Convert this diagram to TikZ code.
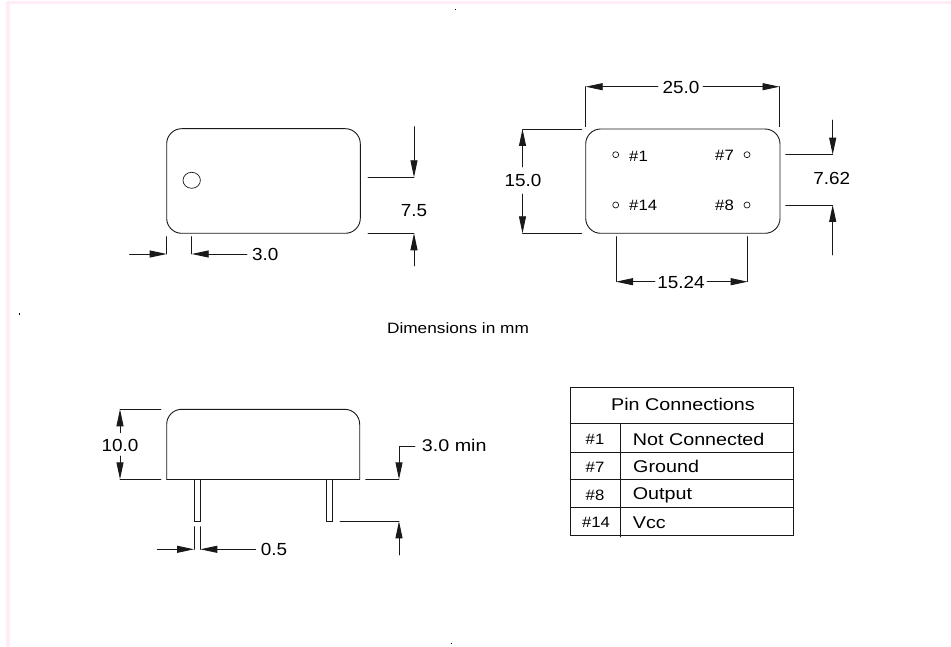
\documentclass[tikz,border=0pt]{standalone}
\usepackage{fontspec}
\setmainfont{Liberation Sans}
\usetikzlibrary{arrows.meta}

\begin{document}
\begin{tikzpicture}[x=1pt,y=-1pt,line cap=round]
	\tikzstyle{frame}=[draw=none,fill=magenta!7!white];
	\tikzstyle{body}=[line width=0.9pt,draw=black!90];
	\tikzstyle{ext}=[line width=0.9pt,draw=black!90];
	\tikzstyle{dim}=[line width=0.9pt,draw=black!90,-{Triangle[length=17pt,width=7pt]}];
	\tikzstyle{hole}=[line width=0.7pt,draw=black!90,fill=white];
	\tikzstyle{lab}=[inner sep=0pt,font=\fontsize{17.5}{18}\selectfont\addfontfeature{FakeStretch=1.08}];
	\tikzstyle{small}=[inner sep=0pt,font=\fontsize{15}{16}\selectfont\addfontfeature{FakeStretch=1.115}];
	\tikzstyle{wide}=[inner sep=0pt,font=\fontsize{15}{16}\selectfont\addfontfeature{FakeStretch=1.15}];
	\tikzstyle{tab}=[inner sep=0pt,font=\fontsize{17}{18}\selectfont\addfontfeature{FakeStretch=1.16}];
	\tikzstyle{speck}=[draw=none,fill=black];

	\useasboundingbox (0,0) rectangle (951,647);
	% page edge
	\fill[frame] (6,1) rectangle (951,4);
	\fill[frame] (6,1) rectangle (10,647);
	\fill[speck] (454.5,9.5) rectangle (455.5,10.5);
	\fill[speck] (18.5,313) rectangle (20,314.5);
	\fill[speck] (451,643) rectangle (452,644);

	% top view, left
	\draw[body,rounded corners=15] (166.7,128.7) rectangle (360.3,233.3);
	\draw[hole] (191.7,180.3) ellipse (8.7 and 8);
	\draw[ext] (368,177.3) -- (414,177.3);
	\draw[ext] (368,233.3) -- (414,233.3);
	\draw[dim] (414,126.7) -- (414,177.3);
	\draw[dim] (414,266) -- (414,233.3);
	\node[lab] (dimb) at (414,211) {7.5};
	\draw[ext] (166.7,236.7) -- (166.7,254);
	\draw[ext] (191.7,236.7) -- (191.7,254);
	\draw[dim] (129.5,254) -- (166.7,254);
	\draw[dim] (247,254) -- (191.7,254);
	\node[lab,right] (dimhole) at (252,254) {3.0};

	% top view, right
	\draw[body,rounded corners=15] (585.7,129) rectangle (780,233.3);
	\draw[hole] (615.7,154.7) circle (3);
	\draw[hole] (747,154.7) circle (3);
	\draw[hole] (615.7,205) circle (3);
	\draw[hole] (747,205) circle (3);
	\node[small,right] (pina) at (629,156) {\#1};
	\node[small,left] (pinb) at (734,155) {\#7};
	\node[small,right] (pinc) at (629,205.5) {\#14};
	\node[small,left] (pind) at (734,205.5) {\#8};
	\draw[ext] (585.7,126.7) -- (585.7,86.7);
	\draw[ext] (779.5,126.7) -- (779.5,86.7);
	\draw[dim] (658,86.7) -- (585.7,86.7);
	\draw[dim] (703,86.7) -- (779.5,86.7);
	\node[lab] (dima) at (681,87) {25.0};
	\draw[ext] (522.5,129) -- (581.7,129);
	\draw[ext] (522.5,233.3) -- (581.7,233.3);
	\draw[dim] (522.5,167) -- (522.5,129);
	\draw[dim] (522.5,194) -- (522.5,233.3);
	\node[lab] (dimc) at (523,180.5) {15.0};
	\draw[ext] (785.7,154.7) -- (832.7,154.7);
	\draw[ext] (785.7,205) -- (832.7,205);
	\draw[dim] (832.7,120) -- (832.7,154.7);
	\draw[dim] (832.7,255) -- (832.7,205);
	\node[lab] (dimd) at (831.7,178) {7.62};
	\draw[ext] (616,236.7) -- (616,281.7);
	\draw[ext] (747.7,236.7) -- (747.7,281.7);
	\draw[dim] (655,281.7) -- (616,281.7);
	\draw[dim] (707,281.7) -- (747.7,281.7);
	\node[lab] (dime) at (681,282) {15.24};

	\node[wide] (unit) at (458,328) {Dimensions in mm};

	% side view
	\draw[body,rounded corners=15] (166.7,479.3) -- (166.7,409.3) -- (359.7,409.3) -- (359.7,479.3);
	\draw[body] (166.7,479.3) -- (359.7,479.3);
	\draw[body] (194,479.3) rectangle (200.3,521.3);
	\draw[body] (326.3,479.3) rectangle (332.7,521.3);
	\draw[ext] (120,409.3) -- (161,409.3);
	\draw[ext] (120,479.3) -- (161,479.3);
	\draw[dim] (120,432.7) -- (120,409.3);
	\draw[dim] (120,456) -- (120,479.3);
	\node[lab] (dimf) at (120,445) {10.0};
	\draw[ext] (365.7,479.3) -- (399,479.3);
	\draw[dim] (415,446) -- (399,446) -- (399,479.3);
	\node[tab,right] (dimg) at (421.7,445) {3.0 min};
	\draw[ext] (340,521.3) -- (399,521.3);
	\draw[dim] (399,555) -- (399,521.3);
	\draw[ext] (194,526.7) -- (194,549.3);
	\draw[ext] (200.3,526.7) -- (200.3,549.3);
	\draw[dim] (157.3,549.3) -- (194,549.3);
	\draw[dim] (255.7,549.3) -- (200.3,549.3);
	\node[lab,right] (dimh) at (260.7,549.5) {0.5};

	% pin table
	\draw[body] (570.3,387.7) rectangle (793.3,535);
	\draw[body] (570.3,423.7) -- (793.3,423.7);
	\draw[body] (570.3,452) -- (793.3,452);
	\draw[body] (570.3,479.7) -- (793.3,479.7);
	\draw[body] (570.3,507.7) -- (793.3,507.7);
	\draw[body] (620,423.7) -- (620,537);
	\node[tab] (tabhead) at (683,404) {Pin Connections};
	\node[small] (rowa) at (595,439) {\#1};
	\node[small] (rowb) at (595,467) {\#7};
	\node[small] (rowc) at (595,495) {\#8};
	\node[small] (rowd) at (596,522) {\#14};
	\node[tab,right] (funa) at (632.7,439) {Not Connected};
	\node[tab,right] (funb) at (633,466) {Ground};
	\node[tab,right] (func) at (632.7,495) {Output};
	\node[tab,right] (fund) at (632.7,523) {Vcc};
\end{tikzpicture}
\end{document}
